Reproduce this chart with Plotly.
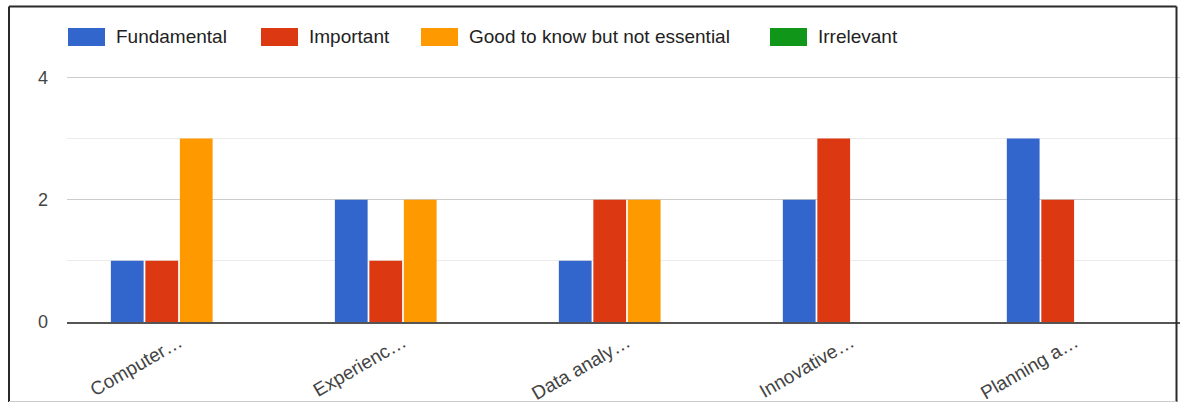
import plotly.graph_objects as go

categories = ["Computer…", "Experienc…", "Data analy…", "Innovative…", "Planning a…"]
series_names = ["Fundamental", "Important", "Good to know but not essential", "Irrelevant"]
fundamental = [1, 2, 1, 2, 3]
important = [1, 1, 2, 3, 2]
good_to_know = [3, 2, 2, 0, 0]
irrelevant = [0, 0, 0, 0, 0]
colors = ["#3366cc", "#dc3912", "#ff9900", "#109618"]
y_ticks = [0, 2, 4]

W, H = 1180, 403
ML, MR, MT, MB = 67, 0, 16, 81
PW = W - ML - MR
PH = H - MT - MB


def px_x(px):
    return (px - ML) / PW


def px_y(py):
    return (H - MB - py) / PH


fig = go.Figure()
for name, vals, col in zip(series_names, [fundamental, important, good_to_know, irrelevant], colors):
    fig.add_trace(go.Bar(x=categories, y=vals, name=name, marker=dict(color=col, line=dict(width=0)),
                         showlegend=False))

FONT = "Liberation Sans, Arial, sans-serif"

# custom legend (large swatches like the reference)
legend_x = [68, 261, 421, 770]
shapes = []
annotations = []
for name, col, lx in zip(series_names, colors, legend_x):
    shapes.append(dict(type="rect", xref="paper", yref="paper",
                       x0=px_x(lx), x1=px_x(lx + 37), y0=px_y(46), y1=px_y(28),
                       fillcolor=col, line=dict(width=0), layer="above"))
    annotations.append(dict(xref="paper", yref="paper", x=px_x(lx + 46), y=px_y(37),
                            xanchor="left", yanchor="middle", showarrow=False, text=name,
                            font=dict(family=FONT, size=19, color="#222222")))

# outer frame
shapes += [
    dict(type="line", xref="paper", yref="paper", x0=px_x(9), x1=px_x(1176.5), y0=px_y(6.5), y1=px_y(6.5),
         line=dict(color="#2a2a2a", width=2)),
    dict(type="line", xref="paper", yref="paper", x0=px_x(9), x1=px_x(9), y0=px_y(6.5), y1=px_y(402),
         line=dict(color="#2a2a2a", width=2)),
    dict(type="line", xref="paper", yref="paper", x0=px_x(1176.5), x1=px_x(1176.5), y0=px_y(6.5), y1=px_y(402),
         line=dict(color="#2a2a2a", width=2)),
    dict(type="line", xref="paper", yref="paper", x0=px_x(9), x1=px_x(1176.5), y0=px_y(401.5), y1=px_y(401.5),
         line=dict(color="#cccccc", width=1)),
]

fig.update_layout(
    width=W, height=H,
    margin=dict(l=ML, r=MR, t=MT, b=MB, pad=0),
    paper_bgcolor="white", plot_bgcolor="white",
    barmode="group", bargap=0.384, bargroupgap=0.05,
    font=dict(family=FONT, size=18, color="#444444"),
    shapes=shapes, annotations=annotations,
    xaxis=dict(range=[-0.5, 4.469], showgrid=False, showline=True, linecolor="#555555", linewidth=2,
               tickangle=-30, ticks="", tickfont=dict(size=19, color="#444444"), fixedrange=True),
    yaxis=dict(range=[0, 5.004], tickvals=y_ticks, showgrid=True, gridcolor="#cccccc", gridwidth=1,
               zeroline=False, ticks="", ticklabelstandoff=18,
               tickfont=dict(size=18, color="#444444"),
               minor=dict(dtick=1, showgrid=True, gridcolor="#ebebeb", gridwidth=1)),
)

fig.write_html("out.html", config={"displayModeBar": False},
               post_script="document.body.style.margin='0px';document.body.style.overflow='hidden';")
